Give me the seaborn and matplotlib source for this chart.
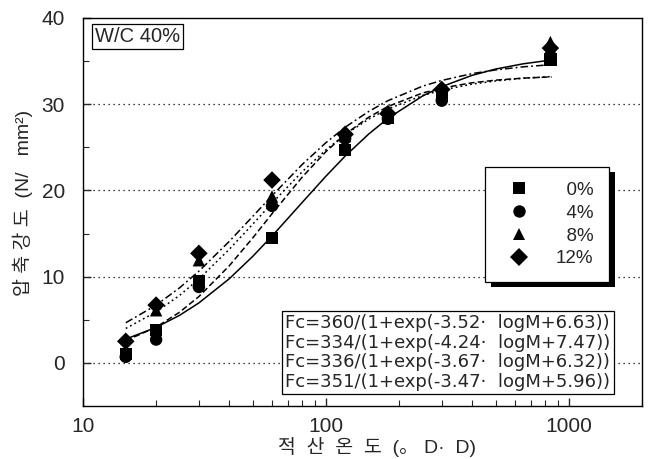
import numpy as np
import pandas as pd
import seaborn as sns
import matplotlib
matplotlib.use('Agg')
import matplotlib.pyplot as plt
from matplotlib.patches import Rectangle

# measured points (maturity M, strength Fc)
groups = ['0%', '4%', '8%', '12%']
M = [15, 20, 30, 60, 120, 180, 300, 840]
fc_0 = [1.0, 3.8, 9.5, 14.5, 24.7, 28.4, 31.0, 35.2]
fc_4 = [0.7, 2.7, 8.8, 18.2, 26.0, 28.3, 30.4, 35.6]
fc_8 = [1.3, 6.1, 11.9, 19.3, 26.3, 28.8, 31.3, 37.2]
fc_12 = [2.5, 6.7, 12.7, 21.2, 26.5, 28.9, 31.7, 36.5]

# fitted curves
M_fit = [15, 20, 25, 30, 40, 50, 60, 80, 100, 120, 150, 180, 250, 300, 400, 500, 650, 850]
fit_0 = [2.76, 4.11, 5.52, 6.95, 9.75, 12.35, 14.70, 18.62, 21.64, 23.97, 26.53, 28.35,
         30.94, 32.03, 33.34, 34.07, 34.68, 35.12]
fit_4 = [2.57, 4.14, 5.88, 7.69, 11.25, 14.49, 17.29, 21.56, 24.49, 26.50, 28.48, 29.73,
         31.29, 31.86, 32.48, 32.78, 33.02, 33.16]
fit_8 = [3.99, 5.91, 7.83, 9.72, 13.16, 16.08, 18.52, 22.18, 24.70, 26.47, 28.26, 29.44,
         31.00, 31.62, 32.32, 32.69, 33.00, 33.20]
fit_12 = [4.65, 6.69, 8.71, 10.63, 14.08, 16.99, 19.38, 23.02, 25.53, 27.32, 29.15, 30.40,
          32.08, 32.75, 33.54, 33.97, 34.33, 34.58]

formulas = ['Fc=360/(1+exp(-3.52·  logM+6.63))',
            'Fc=334/(1+exp(-4.24·  logM+7.47))',
            'Fc=336/(1+exp(-3.67·  logM+6.32))',
            'Fc=351/(1+exp(-3.47·  logM+5.96))']

pts = pd.concat([pd.DataFrame({'M': M, 'Fc': v, 'g': g})
                 for g, v in zip(groups, [fc_0, fc_4, fc_8, fc_12])])
fit = pd.concat([pd.DataFrame({'M': M_fit, 'Fc': v, 'g': g})
                 for g, v in zip(groups, [fit_0, fit_4, fit_8, fit_12])])

sns.set_style('ticks')
plt.rcParams['font.family'] = ['Liberation Sans', 'Noto Sans CJK KR', 'DejaVu Sans']
plt.rcParams['xtick.direction'] = 'in'
plt.rcParams['ytick.direction'] = 'in'

fig = plt.figure(figsize=(6.51, 4.59), dpi=100)
ax = fig.add_axes([0.1275, 0.1155, 0.8585, 0.8455])

black = {g: 'black' for g in groups}
sns.lineplot(data=fit, x='M', y='Fc', hue='g', style='g', palette=black,
             dashes={'0%': '', '4%': (4, 2), '8%': (1.2, 2), '12%': (5, 2, 1.2, 2)},
             lw=1.1, legend=False, ax=ax, estimator=None, sort=True)
sns.scatterplot(data=pts, x='M', y='Fc', hue='g', style='g', palette=black,
                markers={'0%': 's', '4%': 'o', '8%': '^', '12%': 'D'},
                s=80, edgecolor='black', linewidth=0, ax=ax, zorder=3)

ax.set_xscale('log')
ax.set_xlim(10, 2000)
ax.set_ylim(-5, 40)
ax.set_yticks([0, 10, 20, 30, 40])
ax.set_yticks([5, 15, 25, 35], minor=True)
ax.set_xticks([10, 100, 1000])
ax.set_xticklabels(['10', '100', '1000'])
ax.tick_params(labelsize=15, length=6, width=1)
ax.tick_params(axis='y', pad=13)
ax.tick_params(axis='x', pad=8)
ax.tick_params(which='minor', length=4, width=0.8)
for v in [0, 10, 20, 30]:
    ax.axhline(v, color='black', ls=(0, (1, 3)), lw=0.9, zorder=0)
for s in ax.spines.values():
    s.set_linewidth(1.0)
    s.set_color('black')

ax.set_xlabel('적  산  온  도  (。 D·  D)', fontsize=14)
ax.set_ylabel('압 축 강 도  (N/   mm²)', fontsize=14)
ax.xaxis.set_label_coords(0.526, -0.08)
ax.yaxis.set_label_coords(-0.09, 0.523)

ax.text(0.021, 0.977, 'W/C 40%', transform=ax.transAxes, fontsize=14.5, va='top', ha='left',
        bbox=dict(boxstyle='square,pad=0.14', fc='white', ec='black', lw=0.9))

ax.text(0.362, 0.236, '\n'.join(formulas), transform=ax.transAxes, fontsize=13,
        family=['DejaVu Sans'], va='top', ha='left', linespacing=1.1, zorder=6,
        bbox=dict(boxstyle='square,pad=0.2', fc='white', ec='black', lw=0.9))

handles, labels = ax.get_legend_handles_labels()
for h in handles:
    h.set_color('black')
leg = ax.legend(handles, ['  0%', '  4%', '  8%', '12%'], loc='upper left',
                bbox_to_anchor=(0.719, 0.616), fontsize=13.5, frameon=True,
                fancybox=False, edgecolor='black', framealpha=1, borderpad=0.8,
                handlelength=2.0, handletextpad=1.0, labelspacing=0.3,
                borderaxespad=0)
leg.get_frame().set_linewidth(0.9)
leg.set_zorder(7)

fig.canvas.draw()
bb = leg.get_window_extent().transformed(ax.transAxes.inverted())
dx = 6 / (ax.bbox.width)
dy = 5 / (ax.bbox.height)
ax.add_patch(Rectangle((bb.x0 + dx, bb.y0 - dy), bb.width, bb.height, transform=ax.transAxes,
                       fc='black', ec='none', zorder=6.5, clip_on=False))

fig.savefig('out.png', dpi=100)
